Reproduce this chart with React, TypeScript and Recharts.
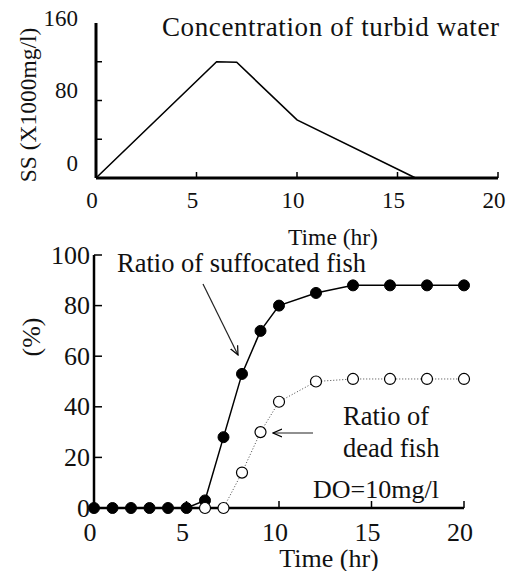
import React from 'react';
import { LineChart, Line, XAxis, YAxis } from 'recharts';

// top panel: suspended solids over time
const ssTime = [0, 6, 7, 10, 15.9];
const ssValue = [0, 120, 119.5, 60, 0];
const ssYTicks = [0, 40, 80, 120, 160];
const ssYLabels = ['0', '', '80', '', '160'];
const ssYLabelShift = [-15, 0, -10, 0, -5];

// bottom panel: fish ratios
const fishTime = [0, 1, 2, 3, 4, 5, 6, 7, 8, 9, 10, 12, 14, 16, 18, 20];
const suffocated = [0, 0, 0, 0, 0, 0, 3, 28, 53, 70, 80, 85, 88, 88, 88, 88];
const dead = [null, null, null, null, null, null, 0, 0, 14, 30, 42, 50, 51, 51, 51, 51];
const pctTicks = [0, 20, 40, 60, 80, 100];
const timeTicks = [0, 5, 10, 15, 20];

const FONT = "'Liberation Serif', 'Times New Roman', serif";

const ssData = ssTime.map((t, i) => ({ t, ss: ssValue[i] }));
const fishData = fishTime.map((t, i) => ({ t, suffocated: suffocated[i], dead: dead[i] }));

const txt = (size: number) => ({ fontFamily: FONT, fontSize: size, fill: '#111' });

const YTick = (props: any) => {
  const { x, y, payload, labels, shifts, ticks, len, gap, fontSize, skip } = props;
  const idx = ticks.indexOf(payload.value);
  const label = labels ? labels[idx] : String(payload.value);
  const dy = shifts ? shifts[idx] : 0;
  return (
    <g>
      {!skip.includes(payload.value) && (
        <line x1={x} y1={y} x2={x + len} y2={y} stroke="#000" strokeWidth={1.5} />
      )}
      <text x={x - gap} y={y + dy} textAnchor="end" dominantBaseline="central" style={txt(fontSize)}>{label}</text>
    </g>
  );
};

const XTick = (props: any) => {
  const { x, y, payload, len, gap, fontSize, skip } = props;
  return (
    <g>
      {!skip.includes(payload.value) && (
        <line x1={x} y1={y} x2={x} y2={y - len} stroke="#000" strokeWidth={1.5} />
      )}
      <text x={x - 4} y={y + gap} textAnchor="middle" dominantBaseline="central" style={txt(fontSize)}>{payload.value}</text>
    </g>
  );
};

const openDot = (p: any) =>
  p.value == null ? <g key={p.index} /> : (
    <circle key={p.index} cx={p.cx} cy={p.cy} r={5.5} fill="#fff" stroke="#000" strokeWidth={1.2} />
  );

export default function App() {
  return (
    <div style={{ position: 'absolute', left: 0, top: 0, width: 506, height: 571, background: '#fff' }}>
      <div style={{ position: 'absolute', left: 0, top: 0 }}>
        <LineChart width={506} height={250} data={ssData} margin={{ top: 23, right: 8, left: 0, bottom: 0 }}>
          <XAxis dataKey="t" type="number" domain={[0, 20]} ticks={timeTicks} height={72}
            tickSize={0} tickMargin={0} axisLine={{ stroke: '#000', strokeWidth: 3 }} tickLine={false}
            tick={(p: any) => <XTick {...p} len={6} gap={22} fontSize={23} skip={[0]} />} />
          <YAxis type="number" domain={[0, 160]} ticks={ssYTicks} width={96}
            tickSize={0} tickMargin={0} axisLine={{ stroke: '#000', strokeWidth: 3 }} tickLine={false}
            tick={(p: any) => <YTick {...p} labels={ssYLabels} shifts={ssYLabelShift} ticks={ssYTicks} len={6} gap={18} fontSize={23} skip={[0, 160]} />} />
          <Line type="linear" dataKey="ss" stroke="#000" strokeWidth={1.6} dot={false} isAnimationActive={false} />
        </LineChart>
      </div>
      <div style={{ position: 'absolute', left: 0, top: 240 }}>
        <LineChart width={506} height={331} data={fishData} margin={{ top: 15, right: 42, left: 0, bottom: 0 }}>
          <XAxis dataKey="t" type="number" domain={[0, 20]} ticks={timeTicks} height={63}
            tickSize={0} tickMargin={0} axisLine={{ stroke: '#000', strokeWidth: 2.5 }} tickLine={false}
            tick={(p: any) => <XTick {...p} len={7} gap={24} fontSize={26} skip={[0]} />} />
          <YAxis type="number" domain={[0, 100]} ticks={pctTicks} width={94}
            tickSize={0} tickMargin={0} axisLine={{ stroke: '#000', strokeWidth: 2.5 }} tickLine={false}
            tick={(p: any) => <YTick {...p} ticks={pctTicks} len={8} gap={4} fontSize={26} skip={[0]} />} />
          <Line type="linear" dataKey="suffocated" stroke="#000" strokeWidth={1.5}
            dot={{ r: 5.5, fill: '#000', stroke: '#000', strokeWidth: 1 }} isAnimationActive={false} />
          <Line type="linear" dataKey="dead" stroke="#444" strokeWidth={1} strokeDasharray="1 2"
            dot={openDot} connectNulls={false} isAnimationActive={false} />
        </LineChart>
      </div>
      <svg width={506} height={571} style={{ position: 'absolute', left: 0, top: 0, pointerEvents: 'none' }}>
        <defs>
          <marker id="head" markerWidth="10" markerHeight="10" refX="9" refY="5" orient="auto" markerUnits="userSpaceOnUse">
            <path d="M0,1 L9,5 L0,9" fill="none" stroke="#000" strokeWidth={1.2} />
          </marker>
        </defs>
        <text x={162} y={27} textLength={337} lengthAdjust="spacing" dominantBaseline="central" style={txt(27)}>
          Concentration of turbid water
        </text>
        <text transform="translate(28,105) rotate(-90)" textAnchor="middle" dominantBaseline="central" style={txt(23.5)}>
          SS (X1000mg/l)
        </text>
        <text x={333} y={237} textAnchor="middle" dominantBaseline="central" style={txt(23.5)}>Time (hr)</text>

        <text transform="translate(31,337) rotate(-90)" textAnchor="middle" dominantBaseline="central" style={txt(26)}>(%)</text>
        <text x={329} y={558} textAnchor="middle" dominantBaseline="central" style={txt(26)}>Time (hr)</text>
        <text x={117} y={263} dominantBaseline="central" style={txt(26.5)}>Ratio of suffocated fish</text>
        <text x={343} y={416} dominantBaseline="central" style={txt(26.5)}>Ratio of</text>
        <text x={343} y={448} dominantBaseline="central" style={txt(26.5)}>dead fish</text>
        <text x={313} y={489} dominantBaseline="central" style={txt(26)}>DO=10mg/l</text>
        <line x1={203} y1={284} x2={238} y2={355} stroke="#222" strokeWidth={1.2} markerEnd="url(#head)" />
        <line x1={313} y1={433} x2={273} y2={433} stroke="#222" strokeWidth={1.2} markerEnd="url(#head)" />
      </svg>
    </div>
  );
}
